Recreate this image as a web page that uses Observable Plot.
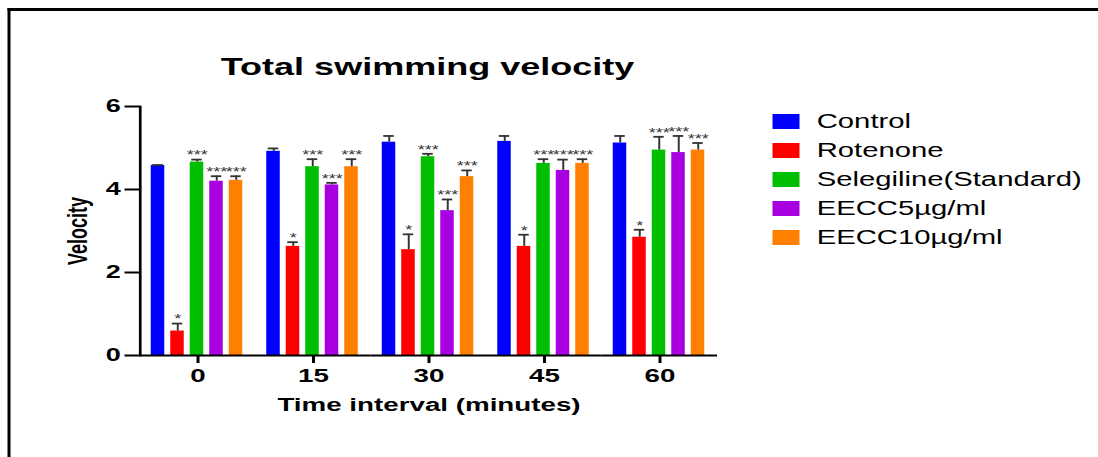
<!DOCTYPE html>
<html><head><meta charset="utf-8">
<script src="https://cdn.jsdelivr.net/npm/d3@7"></script>
<script src="https://cdn.jsdelivr.net/npm/@observablehq/plot@0.6"></script>
<style>
html,body{margin:0;padding:0;background:#fff;overflow:hidden;}
#wrap{position:relative;width:732px;height:457px;transform:scale(1.5,1);transform-origin:0 0;font-family:"Liberation Sans",Arial,sans-serif;}
#border{position:absolute;left:5px;top:8px;width:800px;height:500px;border-left:2px solid #000;border-top:3px solid #000;}
#title{position:absolute;left:0;top:55px;width:570px;text-align:center;font-size:24px;font-weight:bold;line-height:24px;color:#000;}
#chart{position:absolute;left:0;top:0;width:732px;}
#legend{position:absolute;left:515px;top:0;width:240px;}
#chart svg,#legend svg{max-width:none;}
</style></head><body>
<div id="wrap"><div id="border"></div><div id="title">Total swimming velocity</div><div id="chart"></div><div id="legend"></div></div>
<script>
const times = ["0", "15", "30", "45", "60"];
const series = ["Control", "Rotenone", "Selegiline(Standard)", "EECC5µg/ml", "EECC10µg/ml"];
const colors = ["#0000ff", "#ff0000", "#00bf00", "#a800e0", "#ff8000"];
const stars = ["", "*", "***", "***", "***"];

const control       = [4.58, 4.92, 5.14, 5.16, 5.12];
const controlErr    = [0.01, 0.07, 0.15, 0.13, 0.17];
const rotenone      = [0.59, 2.63, 2.55, 2.63, 2.85];
const rotenoneErr   = [0.18, 0.10, 0.37, 0.28, 0.18];
const selegiline    = [4.66, 4.55, 4.79, 4.63, 4.95];
const selegilineErr = [0.06, 0.18, 0.07, 0.10, 0.32];
const eecc5         = [4.20, 4.11, 3.49, 4.46, 4.89];
const eecc5Err      = [0.12, 0.05, 0.27, 0.26, 0.40];
const eecc10        = [4.22, 4.55, 4.31, 4.63, 4.95];
const eecc10Err     = [0.10, 0.18, 0.15, 0.10, 0.17];

const yTicks = [0, 2, 4, 6];

const values = [control, rotenone, selegiline, eecc5, eecc10];
const errors = [controlErr, rotenoneErr, selegilineErr, eecc5Err, eecc10Err];
const data = [];
times.forEach((t, i) => series.forEach((s, j) => data.push({
  time: t, series: s, value: values[j][i], err: errors[j][i], stars: stars[j]
})));
const errTop = d => d.value + d.err;

const chart = Plot.plot({
  width: 732, height: 457,
  marginTop: 106, marginBottom: 102, marginLeft: 92.5, marginRight: 254,
  style: {fontFamily: "Liberation Sans, Arial, sans-serif", fontSize: "17px", fontWeight: "bold", color: "#000", background: "transparent", overflow: "visible"},
  fx: {domain: times, padding: 0},
  x: {domain: series, paddingInner: 0.3, paddingOuter: 0.47, axis: null},
  y: {domain: [0, 6]},
  color: {domain: series, range: colors},
  marks: [
    Plot.barY(data, {fx: "time", x: "series", y: "value", fill: "series"}),
    Plot.ruleX(data, {fx: "time", x: "series", y1: "value", y2: errTop, stroke: "#333", strokeWidth: 1.3}),
    Plot.tickY(data, {fx: "time", x: "series", y: errTop, stroke: "#333", strokeWidth: 1.8, inset: 1}),
    Plot.text(data.filter(d => d.stars), {fx: "time", x: "series", y: errTop, text: "stars", dy: -4, fontSize: 12, fontWeight: "normal", fill: "#333", letterSpacing: "-0.6px"}),
    Plot.ruleY([0], {strokeWidth: 2}),
    Plot.frame({anchor: "left", facet: "super", strokeWidth: 1.8}),
    Plot.axisY({ticks: yTicks, tickFormat: d => String(d), tickSize: 10, tickPadding: 3, strokeWidth: 2, label: "Velocity", labelAnchor: "center", labelOffset: 48, labelArrow: false, fontSize: 18}),
    Plot.axisFx({anchor: "bottom", tickSize: 8, tickPadding: 5, strokeWidth: 2, label: "Time interval (minutes)", labelAnchor: "center", labelOffset: 55, labelArrow: false, fontSize: 18.5})
  ]
});
document.getElementById("chart").appendChild(chart);

const legend = Plot.plot({
  width: 240, height: 260,
  marginTop: 106.5, marginBottom: 8.5, marginLeft: 0, marginRight: 0,
  style: {fontFamily: "Liberation Sans, Arial, sans-serif", fontSize: "19.5px", color: "#000", background: "transparent", overflow: "visible"},
  x: {type: "band", domain: ["swatch"], range: [0, 18.5], padding: 0, axis: null},
  y: {type: "band", domain: series, padding: 0, axis: null},
  color: {domain: series, range: colors},
  marks: [
    Plot.cell(series, {x: () => "swatch", y: d => d, fill: d => d, insetTop: 7, insetBottom: 7}),
    Plot.text(series, {x: () => "swatch", y: d => d, text: d => d, textAnchor: "start", dx: 20, fill: "#000"})
  ]
});
document.getElementById("legend").appendChild(legend);
</script>
</body></html>
